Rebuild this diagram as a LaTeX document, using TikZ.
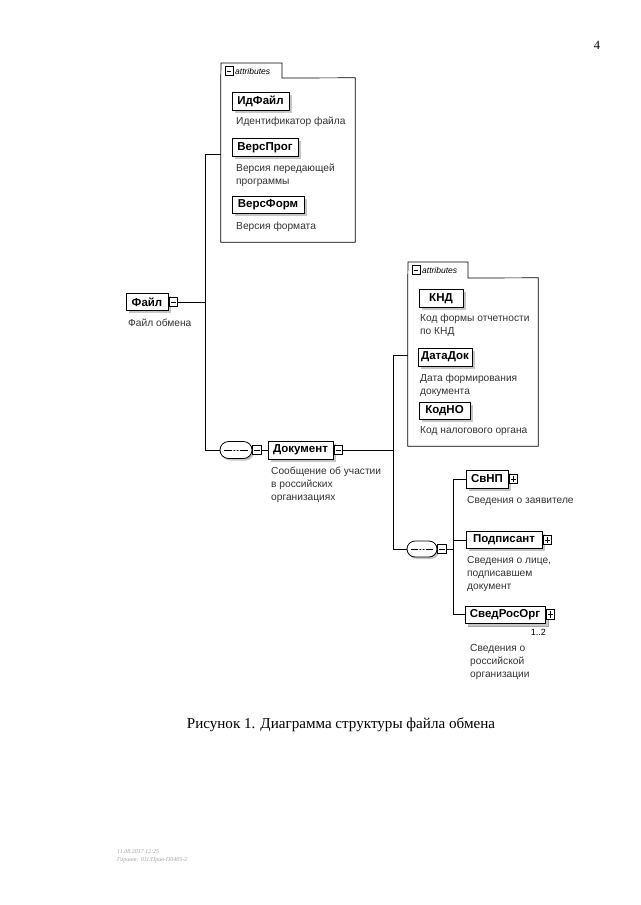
\documentclass[tikz,border=0pt]{standalone}
\usepackage{fontspec}
\setmainfont{Liberation Serif}
\newfontfamily\dsans{Liberation Sans}
\usetikzlibrary{shapes.misc,shadows}
\tikzset{
  elem/.style={draw, line width=0.9pt, fill=white, inner sep=0pt, minimum height=18pt,
    font=\dsans\bfseries\fontsize{11.5}{13}\selectfont,
    drop shadow={shadow xshift=2.5pt, shadow yshift=-2.5pt, fill=gray!45, opacity=1}},
  desc/.style={anchor=north west, inner sep=0pt, align=left, text=black!80,
    font=\dsans\fontsize{10.2}{13}\selectfont},
  tog/.style={draw, line width=0.6pt, fill=white, inner sep=0pt, minimum width=8.5pt, minimum height=9.5pt, anchor=west},
  togm/.style={tog, path picture={\draw[line width=0.6pt] ([xshift=1.4pt]path picture bounding box.west) -- ([xshift=-1.4pt]path picture bounding box.east);}},
  togp/.style={tog, path picture={\draw[line width=0.6pt] ([xshift=1.4pt]path picture bounding box.west) -- ([xshift=-1.4pt]path picture bounding box.east);
     \draw[line width=0.6pt] ([yshift=-1.4pt]path picture bounding box.north) -- ([yshift=1.4pt]path picture bounding box.south);}},
  seqsym/.style={rounded rectangle, draw, line width=0.8pt, fill=white, inner sep=0pt,
    drop shadow={shadow xshift=2pt, shadow yshift=-2pt, fill=gray!45, opacity=1},
    path picture={\draw[line width=0.7pt] ([xshift=4pt]path picture bounding box.west) -- ([xshift=-4pt]path picture bounding box.east);
      \fill (path picture bounding box.center) circle (1.1pt) ++(-3.2pt,0) circle (1.1pt) ++(6.4pt,0) circle (1.1pt);}},
  attrbox/.style={draw, line width=0.7pt, inner sep=0pt},
  attrlab/.style={anchor=west, inner sep=0pt, font=\dsans\itshape\fontsize{8.5}{9}\selectfont},
  conn/.style={line width=0.8pt},
}
\begin{document}
\begin{tikzpicture}[x=1pt,y=-1pt]
\useasboundingbox (0,0) rectangle (640,905);
\fill[white] (0,0) rectangle (640,905);

% page number
\node[font=\fontsize{12.5}{14}\selectfont, inner sep=0pt] (pnum) at (597,45) {4};

% ---------- attributes box 1 ----------
\node[minimum width=134pt, minimum height=164pt, inner sep=0pt] (ab1) at (288,160) {};
\draw[attrbox] (ab1.north west) -- (221,63) -- (282,63) -- (282,78) -- (ab1.north east) -- (ab1.south east) -- (ab1.south west) -- cycle;
\node[togm, minimum width=7.5pt, minimum height=8.5pt] (ab1t) at (225,71) {};
\node[attrlab] (ab1l) at (235,71) {attributes};

\node[elem, minimum width=57pt] (idf) at (260.5,101) {ИдФайл};
\node[desc] (idfd) at (236,117) {Идентификатор файла};
\node[elem, minimum width=66pt] (vprog) at (265,147.5) {ВерсПрог};
\node[desc] (vprogd) at (236,164) {Версия передающей\\программы};
\node[elem, minimum width=72pt, minimum height=17pt] (vform) at (268,204.5) {ВерсФорм};
\node[desc] (vformd) at (236,222) {Версия формата};

% ---------- root ----------
\node[elem, minimum width=42pt, minimum height=17pt] (fayl) at (147,302) {Файл};
\node[togm] (faylt) at ([xshift=0.5pt]fayl.east) {};
\node[desc] (fayld) at (128,319) {Файл обмена};

\coordinate (j1) at (205,302);
\coordinate (jt) at (205,154);
\coordinate (jb) at (205,450);
\draw[conn] (faylt.east) -- (j1);
\draw[conn] (jt) -- (jb);
\draw[conn] (jt) -- (jt -| ab1.west);

% ---------- sequence 1 + Документ ----------
\node[seqsym, minimum width=32pt, minimum height=17pt] (seq1) at (236,450) {};
\node[togm] (seq1t) at (seq1.east) {};
\draw[conn] (jb) -- (seq1.west);
\node[elem, minimum width=65pt] (dok) at (300.5,450) {Документ};
\node[togm] (dokt) at ([xshift=0.5pt]dok.east) {};
\draw[conn] (seq1t.east) -- (dok.west);
\node[desc] (dokd) at (271,467) {Сообщение об участии\\в российских\\организациях};

\coordinate (k1) at (393,450);
\coordinate (k2) at (393,355);
\coordinate (k3) at (393,549);
\draw[conn] (dokt.east) -- (k1);
\draw[conn] (k2) -- (k3);

% ---------- attributes box 2 ----------
\node[minimum width=130pt, minimum height=168pt, inner sep=0pt] (ab2) at (473,362) {};
\draw[attrbox] (ab2.north west) -- (408,262) -- (468,262) -- (468,278) -- (ab2.north east) -- (ab2.south east) -- (ab2.south west) -- cycle;
\node[togm, minimum width=7.5pt, minimum height=8.5pt] (ab2t) at (412,270) {};
\node[attrlab] (ab2l) at (422,270) {attributes};
\draw[conn] (k2) -- (k2 -| ab2.west);

\node[elem, minimum width=44pt] (knd) at (441,298.5) {КНД};
\node[desc] (kndd) at (420,314) {Код формы отчетности\\по КНД};
\node[elem, minimum width=54pt] (datadok) at (445,357) {ДатаДок};
\node[desc] (datadokd) at (420,374) {Дата формирования\\документа};
\node[elem, minimum width=51pt, minimum height=17pt] (kodno) at (444.5,410.5) {КодНО};
\node[desc] (kodnod) at (420,426) {Код налогового органа};

% ---------- sequence 2 ----------
\node[seqsym, minimum width=30pt, minimum height=16pt] (seq2) at (422,549) {};
\node[togm] (seq2t) at (seq2.east) {};
\draw[conn] (k3) -- (seq2.west);
\coordinate (m1) at (453,549);
\coordinate (m0) at (453,479);
\coordinate (m2) at (453,614.5);
\draw[conn] (seq2t.east) -- (m1);
\draw[conn] (m0) -- (m2);

\node[elem, minimum width=42pt] (svnp) at (487,479) {СвНП};
\node[togp] (svnpt) at ([xshift=0.5pt]svnp.east) {};
\node[desc] (svnpd) at (467,496) {Сведения о заявителе};
\draw[conn] (m0) -- (svnp.west);

\node[elem, minimum width=76pt, minimum height=17pt] (podp) at (504,540) {Подписант};
\node[togp] (podpt) at ([xshift=0.5pt]podp.east) {};
\node[desc] (podpd) at (467,556) {Сведения о лице,\\подписавшем\\документ};
\draw[conn] (podp.west -| m0) -- (podp.west);

\draw[line width=0.6pt, draw=gray!70, fill=white] (468,609) rectangle (548,626);
\node[elem, minimum width=80pt, minimum height=17pt] (sved) at (505,614.5) {СведРосОрг};
\node[togp] (svedt) at ([xshift=0.5pt]sved.east) {};
\node[inner sep=0pt, anchor=east, font=\dsans\fontsize{9}{10}\selectfont] (svedm) at (546,632) {1..2};
\node[desc] (svedd) at (470,644) {Сведения о\\российской\\организации};
\draw[conn] (m2) -- (sved.west);

% ---------- caption ----------
\node[inner sep=0pt, font=\fontsize{15.1}{17}\selectfont] (cap) at (341,725) {Рисунок 1. Диаграмма структуры файла обмена};

% ---------- footer ----------
\node[anchor=west, inner sep=0pt, align=left, text=gray!70, font=\itshape\fontsize{6}{8.5}\selectfont] (foot) at (117,856) {11.08.2017 12:25\\Гарант: 011/Прав-П0405-2};
\end{tikzpicture}
\end{document}
